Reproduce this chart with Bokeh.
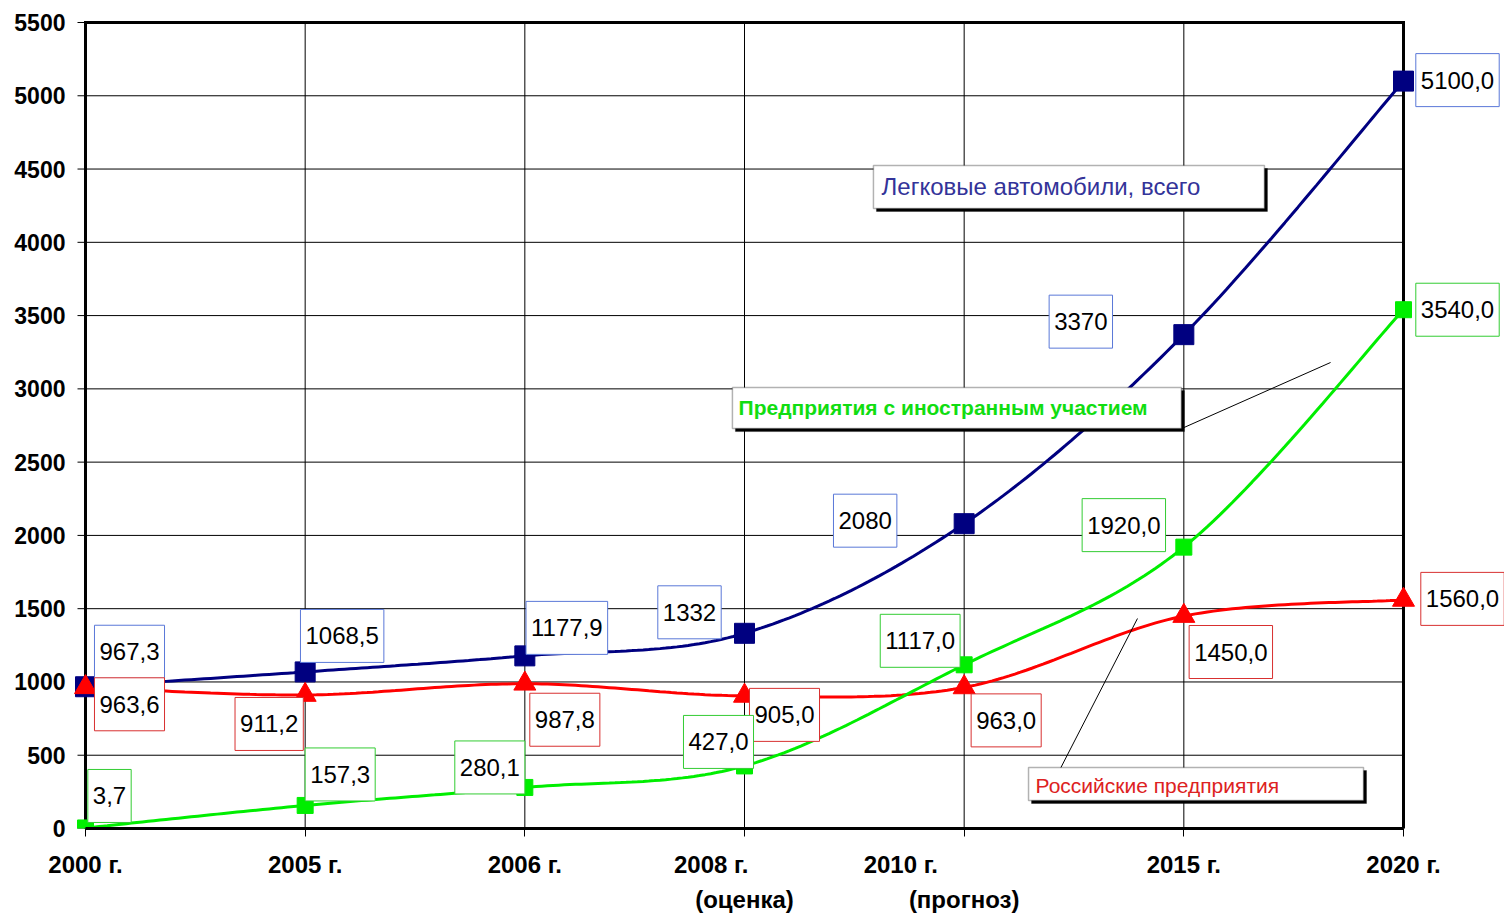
import numpy as np
from bokeh.plotting import figure
from bokeh.models import ColumnDataSource, FixedTicker, BoxAnnotation, Label, Range1d
from bokeh.embed import file_html
from bokeh.resources import INLINE
from bokeh.core.properties import value

# ---------------- data ----------------
NB = "\u00a0"
categories = ["2000 г.", "2005 г.", "2006 г.",
              "2008 г." + NB * 10 + "\n(оценка)",
              "2010 г." + NB * 19 + "\n(прогноз)",
              "2015 г.", "2020 г."]
total = [967.3, 1068.5, 1177.9, 1332, 2080, 3370, 5100]
russian = [963.6, 911.2, 987.8, 905.0, 963.0, 1450.0, 1560.0]
foreign = [3.7, 157.3, 280.1, 427.0, 1117.0, 1920.0, 3540.0]
total_labels = ["967,3", "1068,5", "1177,9", "1332", "2080", "3370", "5100,0"]
russian_labels = ["963,6", "911,2", "987,8", "905,0", "963,0", "1450,0", "1560,0"]
foreign_labels = ["3,7", "157,3", "280,1", "427,0", "1117,0", "1920,0", "3540,0"]
y_ticks = [0, 500, 1000, 1500, 2000, 2500, 3000, 3500, 4000, 4500, 5000, 5500]
series_names = ["Легковые автомобили, всего",
                "Предприятия с иностранным участием",
                "Российские предприятия"]

# ---------------- label placement (screen px offsets) ----------------
total_dx = [44, 37, 42, -55, -99, -103, 54]
total_dy = [-35, -36, -28, -21, -3, -13, -1]
russian_dx = [44, -36, 40, 40, 42, 47, 59]
russian_dy = [17, 29, 36, 19, 33, 36, -1]
foreign_dx = [24, 35, -35, -26, -44, -60, 54]
foreign_dy = [-32, -31, -20, -24, -24, -22, 0]

NAVY = "#000080"
RED = "#ff0000"
GREEN = "#00ee00"

# ---------------- layout (pixels) ----------------
AX_LEFT, AX_RIGHT, AX_TOP, AX_BOTTOM = 85, 1403, 22, 828   # data area of the chart
FR_LEFT, FR_RIGHT, FR_TOP = 72, 1504, 19
PX_X = (AX_RIGHT - AX_LEFT) / 6.0
PX_Y = (AX_BOTTOM - AX_TOP) / 5500.0
TICK = 8


def smooth(xs, ys, n=40):
    P = np.column_stack([xs, ys]).astype(float)
    E = np.vstack([P[0], P, P[-1]])
    out = [P[0]]
    t = np.linspace(0, 1, n)[1:, None]
    for i in range(len(P) - 1):
        p0, p1, p2, p3 = E[i], E[i + 1], E[i + 2], E[i + 3]
        c1 = p1 + (p2 - p0) / 6.0
        c2 = p2 - (p3 - p1) / 6.0
        b = (1 - t) ** 3 * p1 + 3 * (1 - t) ** 2 * t * c1 + 3 * (1 - t) * t ** 2 * c2 + t ** 3 * p2
        out.extend(b)
    return np.array(out)


xpos = list(range(len(categories)))

x_start = -(AX_LEFT - FR_LEFT) / PX_X
x_end = (FR_RIGHT - AX_LEFT) / PX_X
y_end = (AX_BOTTOM - FR_TOP) / PX_Y

p = figure(frame_width=FR_RIGHT - FR_LEFT, frame_height=AX_BOTTOM - FR_TOP,
           x_range=Range1d(x_start, x_end), y_range=Range1d(0, y_end),
           output_backend="svg", toolbar_location=None,
           min_border_left=FR_LEFT, min_border_right=0,
           min_border_top=FR_TOP, min_border_bottom=916 - AX_BOTTOM)
p.background_fill_color = "white"
p.border_fill_color = "white"
p.outline_line_color = None
p.xgrid.visible = False
p.ygrid.visible = False

p.xaxis.ticker = FixedTicker(ticks=xpos)
p.xaxis.major_label_overrides = {i: c for i, c in enumerate(categories)}
p.xaxis.bounds = (0, 6)
p.yaxis.ticker = FixedTicker(ticks=y_ticks)
for ax in (p.xaxis[0], p.yaxis[0]):
    ax.axis_line_width = 3
    ax.axis_line_color = "black"
    ax.major_tick_out = TICK
    ax.major_tick_in = 0
    ax.major_tick_line_color = "black"
    ax.minor_tick_line_color = None
    ax.major_label_text_font = "Liberation Sans"
    ax.major_label_text_font_style = "bold"
    ax.major_label_text_color = "black"
p.xaxis.major_label_text_font_size = "24px"
p.yaxis.major_label_text_font_size = "23px"
p.xaxis.major_label_standoff = 14
p.xaxis.major_label_text_line_height = 1.31
# y axis sits at the frame edge; its line and ticks are drawn at x = 0 below
p.yaxis.axis_line_color = None
p.yaxis.major_tick_line_color = None
p.yaxis.major_tick_out = 0
p.yaxis.major_label_standoff = 7

# gridlines (inside the 0..6 x 0..5500 area)
p.segment(x0=[0] * len(y_ticks), x1=[6] * len(y_ticks), y0=y_ticks, y1=y_ticks,
          line_color="black", line_width=1)
p.segment(x0=xpos, x1=xpos, y0=[0] * len(xpos), y1=[5500] * len(xpos),
          line_color="black", line_width=1)
# y tick marks
p.segment(x0=[-TICK / PX_X] * len(y_ticks), x1=[0] * len(y_ticks), y0=y_ticks, y1=y_ticks,
          line_color="black", line_width=1)
# left, top and right frame border
p.segment(x0=[0, 0, 6], x1=[0, 6, 6], y0=[0, 5500, 0], y1=[5500, 5500, 5500],
          line_color="black", line_width=3, line_cap="square")

# ---------------- lines + markers ----------------
for vals, color in ((total, NAVY), (russian, RED), (foreign, GREEN)):
    s = smooth(xpos, vals)
    p.line(s[:, 0], s[:, 1], line_color=color, line_width=3)

p.scatter(xpos, total, marker="square", size=20, fill_color=NAVY, line_color=NAVY)
p.scatter(xpos, russian, marker="triangle", size=22, fill_color=RED, line_color=RED)
p.scatter(xpos, foreign, marker="square", size=16, fill_color=GREEN, line_color=GREEN)

# ---------------- callout boxes ----------------
callouts = [
    # left, right, top, bottom, text x, text y, color, weight, size, text
    (3.587, 5.367, 4524, 4231, 3.624, 4381, "#333399", "normal", "24px", series_names[0]),
    (2.945, 4.989, 3009, 2729, 2.973, 2873, "#11dd11", "bold", "21px", series_names[1]),
    (4.293, 5.818, 416, 191, 4.325, 293, "#dd2222", "normal", "21px", series_names[2]),
]
# leader lines
p.segment(x0=[4.99, 4.438], y0=[2729, 409], x1=[5.668, 4.789], y1=[3180, 1433],
          line_color="black", line_width=1)

sx = 3 / PX_X
sy = 3 / PX_Y
for (l, r, t, b, tx, ty, col, fs, size, txt) in callouts:
    p.add_layout(BoxAnnotation(left=l + sx, right=r + sx, top=t - sy, bottom=b - sy,
                               fill_color="black", fill_alpha=1, line_color="black", line_width=1))
    p.add_layout(BoxAnnotation(left=l, right=r, top=t, bottom=b,
                               fill_color="white", fill_alpha=1, line_color="black", line_width=1.5))
    p.add_layout(Label(x=tx, y=ty, text=txt, text_align="left", text_baseline="middle",
                       text_color=col, text_font="Liberation Sans", text_font_style=fs,
                       text_font_size=size))

# ---------------- value labels ----------------
for vals, labs, dx, dy, bcol in ((total, total_labels, total_dx, total_dy, "#5a78d8"),
                                 (russian, russian_labels, russian_dx, russian_dy, "#d83030"),
                                 (foreign, foreign_labels, foreign_dx, foreign_dy, "#33cc33")):
    src = ColumnDataSource(dict(x=xpos, y=vals, t=labs, dx=dx, dy=dy))
    p.text(x="x", y="y", text="t", x_offset="dx", y_offset="dy", source=src,
           text_align="center", text_baseline="middle",
           text_font=value("Liberation Sans"), text_font_size="24px", text_color="black",
           background_fill_color="white", border_line_color=bcol, border_line_width=1,
           padding=dict(left=5, right=5, top=18, bottom=18))

open("out.html", "w").write(file_html(p, INLINE))
